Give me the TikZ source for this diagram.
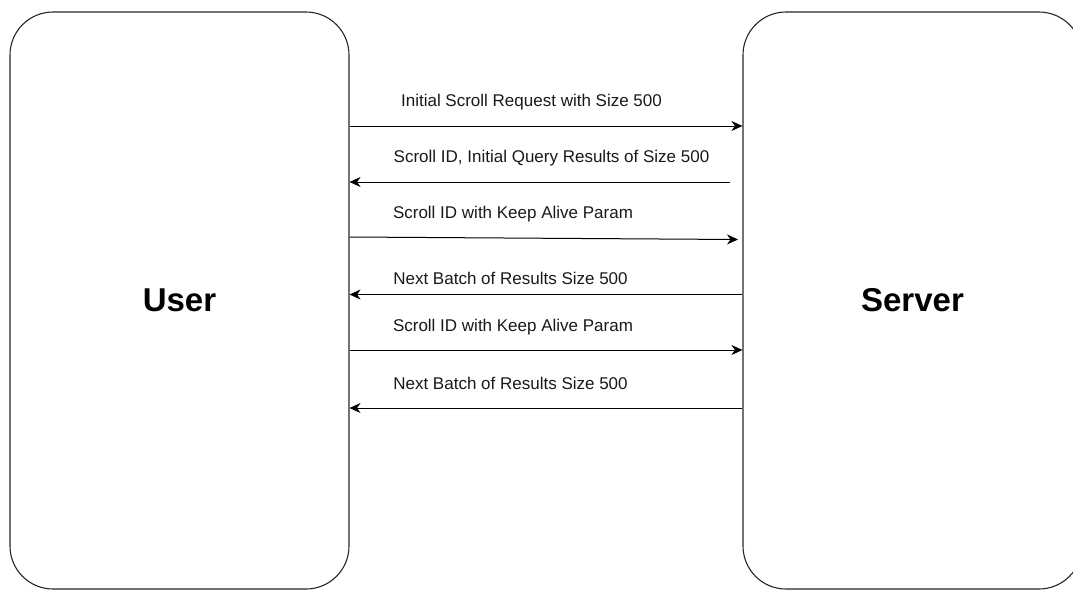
\documentclass[tikz,border=0pt]{standalone}
\usepackage{fontspec}
\setmainfont{Liberation Sans}
\usetikzlibrary{arrows.meta,calc}
\begin{document}
\begin{tikzpicture}[x=1pt,y=-1pt,
  party/.style={draw=black!85,line width=1.1pt,rounded corners=43pt,minimum width=339pt,minimum height=577pt,inner sep=0pt,font=\fontsize{33}{36}\selectfont\bfseries},
  msg/.style={draw=black,line width=1pt,-{Stealth[length=11pt,width=10pt,inset=3.5pt]}},
  lbl/.style={font=\fontsize{17}{19}\selectfont,inner sep=0pt,anchor=center,text=black!90}]
\useasboundingbox (0,0) rectangle (1073,590);
\node[party] (user) at (179.5,300.5) {User};
\node[party] (server) at (912.5,300.5) {Server};
% y levels
\coordinate (y1) at (0,126);
\coordinate (y2) at (0,182);
\coordinate (y3a) at (0,237);
\coordinate (y3b) at (738,239.5);
\coordinate (y4) at (0,294.5);
\coordinate (y5) at (0,350);
\coordinate (y6) at (0,408);
\coordinate (s2) at (730,182);
\draw[msg] (user.east |- y1) -- (server.west |- y1);
\draw[msg] (s2) -- (user.east |- y2);
\draw[msg] (user.east |- y3a) -- (y3b);
\draw[msg] (server.west |- y4) -- (user.east |- y4);
\draw[msg] (user.east |- y5) -- (server.west |- y5);
\draw[msg] (server.west |- y6) -- (user.east |- y6);
\node[lbl] (l1) at (531.5,102) {Initial Scroll Request with Size 500};
\node[lbl] (l2) at (551.5,158) {Scroll ID, Initial Query Results of Size 500};
\node[lbl] (l3) at (513,214) {Scroll ID with Keep Alive Param};
\node[lbl] (l4) at (510.5,278) {Next Batch of Results Size 500};
\node[lbl] (l5) at (513,327) {Scroll ID with Keep Alive Param};
\node[lbl] (l6) at (510.5,383) {Next Batch of Results Size 500};
\end{tikzpicture}
\end{document}
